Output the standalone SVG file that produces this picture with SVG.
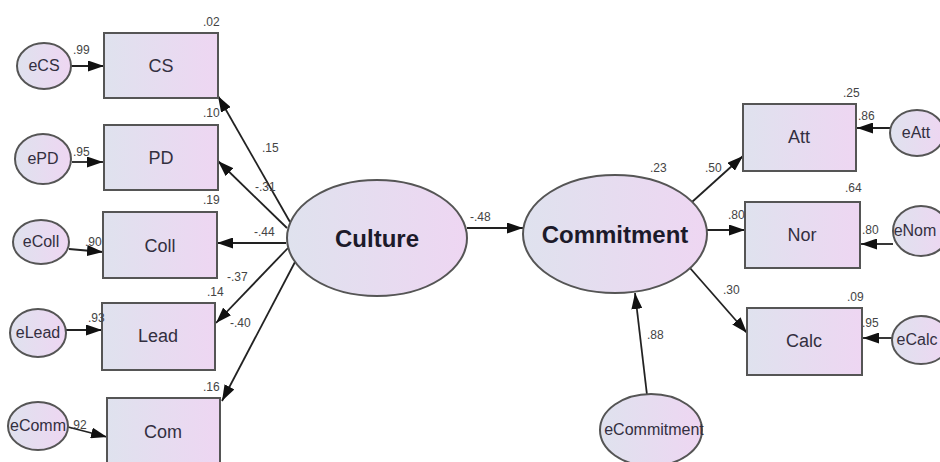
<svg xmlns="http://www.w3.org/2000/svg" width="940" height="462" viewBox="0 0 940 462">
<defs>
<linearGradient id="g" x1="0" y1="0" x2="1" y2="0">
<stop offset="0" stop-color="#dfe2ee"/>
<stop offset="1" stop-color="#eed6f2"/>
</linearGradient>
<marker id="ah" viewBox="0 0 16 11" refX="16" refY="5.5" markerWidth="16" markerHeight="11" markerUnits="userSpaceOnUse" orient="auto">
<path d="M0,0 L16,5.5 L0,11 z" fill="#111"/>
</marker>
<style>
.box{fill:url(#g);stroke:#555;stroke-width:2}
.ell{fill:url(#g);stroke:#555;stroke-width:2}
.lbl{font-family:"Liberation Sans",Arial,sans-serif;font-size:18px;fill:#332f40;text-anchor:middle}
.big{font-family:"Liberation Sans",Arial,sans-serif;font-size:24px;font-weight:bold;fill:#1c1a2a;text-anchor:middle}
.err{font-family:"Liberation Sans",Arial,sans-serif;font-size:16px;fill:#332f40;text-anchor:middle}
.num{font-family:"Liberation Sans",Arial,sans-serif;font-size:12px;fill:#444}
.c{stroke:#222;stroke-width:1.8;fill:none;marker-end:url(#ah)}
</style>
</defs>
<rect width="940" height="462" fill="#fff"/>

<g id="connectors">
<line class="c" x1="71" y1="66" x2="104" y2="66"/>
<line class="c" x1="72" y1="162" x2="103" y2="162"/>
<line class="c" x1="69" y1="249" x2="103" y2="252"/>
<line class="c" x1="66" y1="330" x2="102" y2="330"/>
<line class="c" x1="68" y1="427" x2="107" y2="437"/>
<line class="c" x1="290" y1="222" x2="218" y2="96"/>
<line class="c" x1="287" y1="228" x2="218" y2="161"/>
<line class="c" x1="286" y1="243" x2="217" y2="243"/>
<line class="c" x1="288" y1="248" x2="216" y2="323"/>
<line class="c" x1="295" y1="262" x2="222" y2="401"/>
<line class="c" x1="467" y1="228" x2="523" y2="228"/>
<line class="c" x1="692" y1="202" x2="743" y2="156"/>
<line class="c" x1="707" y1="230" x2="745" y2="230"/>
<line class="c" x1="690" y1="268" x2="747" y2="333"/>
<line class="c" x1="647" y1="395" x2="635" y2="293"/>
<line class="c" x1="890" y1="128" x2="857" y2="128"/>
<line class="c" x1="893" y1="244" x2="861" y2="244"/>
<line class="c" x1="892" y1="338" x2="863" y2="338"/>
</g>

<g id="CS"><rect class="box" x="104" y="33" width="114" height="65"/><text class="lbl" x="161" y="72">CS</text></g>
<g id="PD"><rect class="box" x="104" y="125" width="114" height="65"/><text class="lbl" x="161" y="164">PD</text></g>
<g id="Coll"><rect class="box" x="103" y="212" width="114" height="66"/><text class="lbl" x="160" y="252">Coll</text></g>
<g id="Lead"><rect class="box" x="102" y="303" width="113" height="67"/><text class="lbl" x="158" y="342">Lead</text></g>
<g id="Com"><rect class="box" x="107" y="398" width="113" height="70"/><text class="lbl" x="163" y="438">Com</text></g>

<g id="eCS"><ellipse class="ell" cx="44" cy="66" rx="27" ry="23"/><text class="err" x="44" y="71">eCS</text></g>
<g id="ePD"><ellipse class="ell" cx="43" cy="159" rx="28" ry="25"/><text class="err" x="43" y="164">ePD</text></g>
<g id="eColl"><ellipse class="ell" cx="41" cy="242" rx="28" ry="22"/><text class="err" x="41" y="247">eColl</text></g>
<g id="eLead"><ellipse class="ell" cx="38" cy="333" rx="28" ry="24"/><text class="err" x="38" y="338">eLead</text></g>
<g id="eComm"><ellipse class="ell" cx="38" cy="426" rx="30" ry="24"/><text class="err" x="38" y="431">eComm</text></g>

<g id="Culture"><ellipse class="ell" cx="377" cy="238" rx="90" ry="58"/><text class="big" x="377" y="247">Culture</text></g>
<g id="Commitment"><ellipse class="ell" cx="615" cy="234" rx="92" ry="59"/><text class="big" x="615" y="243">Commitment</text></g>
<g id="eCommitment"><ellipse class="ell" cx="651" cy="430" rx="51" ry="36"/><text class="err" x="654" y="435">eCommitment</text></g>

<g id="Att"><rect class="box" x="743" y="104" width="113" height="67"/><text class="lbl" x="799" y="143">Att</text></g>
<g id="Nor"><rect class="box" x="745" y="202" width="115" height="66"/><text class="lbl" x="802" y="241">Nor</text></g>
<g id="Calc"><rect class="box" x="747" y="308" width="115" height="67"/><text class="lbl" x="804" y="347">Calc</text></g>

<g id="eAtt"><ellipse class="ell" cx="917" cy="133" rx="27" ry="23"/><text class="err" x="916" y="138">eAtt</text></g>
<g id="eNor"><ellipse class="ell" cx="921" cy="231" rx="28" ry="25"/><text class="err" x="915" y="236">eNom</text></g>
<g id="eCalc"><ellipse class="ell" cx="921" cy="340" rx="29" ry="24"/><text class="err" x="917" y="345">eCalc</text></g>

<g id="numbers">
<text class="num" x="203" y="26">.02</text>
<text class="num" x="73" y="54">.99</text>
<text class="num" x="203" y="117">.10</text>
<text class="num" x="73" y="156">.95</text>
<text class="num" x="203" y="204">.19</text>
<text class="num" x="85" y="246">.90</text>
<text class="num" x="207" y="296">.14</text>
<text class="num" x="88" y="322">.93</text>
<text class="num" x="203" y="391">.16</text>
<text class="num" x="70" y="429">.92</text>
<text class="num" x="262" y="152">.15</text>
<text class="num" x="255" y="191">-.31</text>
<text class="num" x="254" y="236">-.44</text>
<text class="num" x="227" y="281">-.37</text>
<text class="num" x="230" y="327">-.40</text>
<text class="num" x="470" y="221">-.48</text>
<text class="num" x="650" y="172">.23</text>
<text class="num" x="705" y="172">.50</text>
<text class="num" x="728" y="219">.80</text>
<text class="num" x="723" y="294">.30</text>
<text class="num" x="647" y="339">.88</text>
<text class="num" x="843" y="97">.25</text>
<text class="num" x="858" y="120">.86</text>
<text class="num" x="845" y="192">.64</text>
<text class="num" x="862" y="234">.80</text>
<text class="num" x="847" y="301">.09</text>
<text class="num" x="862" y="327">.95</text>
</g>
</svg>
